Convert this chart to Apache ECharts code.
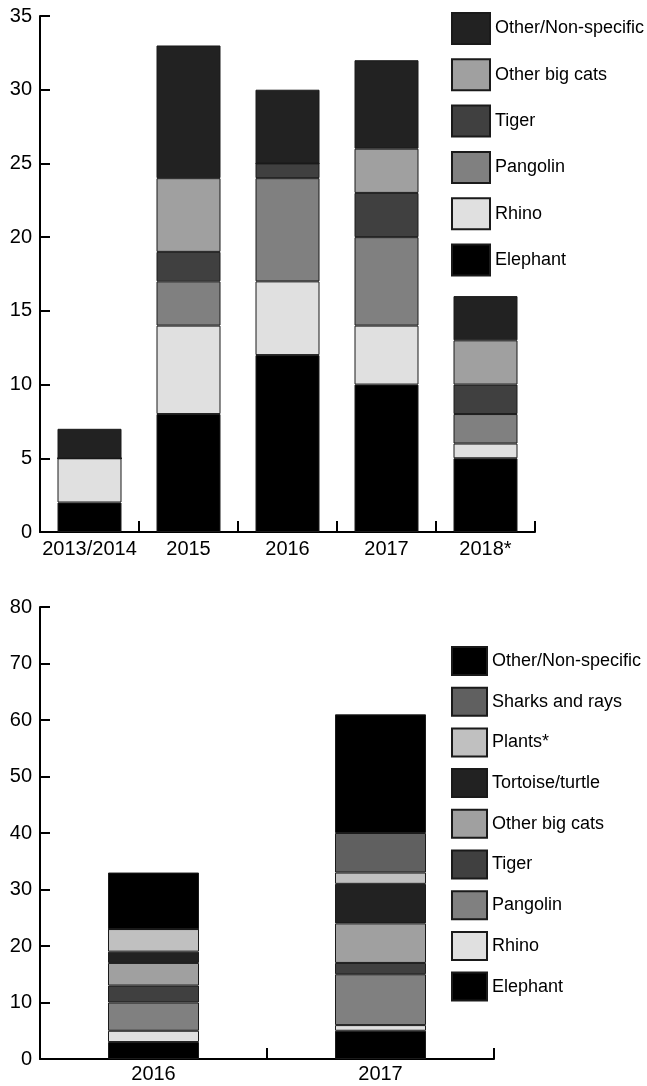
<!DOCTYPE html>
<html>
<head>
<meta charset="utf-8">
<script src="https://cdn.jsdelivr.net/npm/echarts@6/dist/echarts.min.js"></script>
<style>
html,body{margin:0;padding:0;background:#fff;}
#top{position:absolute;left:0;top:0;width:647px;height:570px;}
#bot{position:absolute;left:0;top:570px;width:647px;height:516px;}
</style>
</head>
<body>
<div id="top"></div>
<div id="bot"></div>
<script>
// ---- Top chart data ----
var topCategories = ['2013/2014', '2015', '2016', '2017', '2018*'];
var topElephant = [2, 8, 12, 10, 5];
var topRhino = [3, 6, 5, 4, 1];
var topPangolin = [0, 3, 7, 6, 2];
var topTiger = [0, 2, 1, 3, 2];
var topOtherBigCats = [0, 5, 0, 3, 3];
var topOther = [2, 9, 5, 6, 3];
var topYTicks = [0, 35, 5]; // min, max, interval

// ---- Bottom chart data ----
var botCategories = ['2016', '2017'];
var botElephant = [3, 5];
var botRhino = [2, 1];
var botPangolin = [5, 9];
var botTiger = [3, 2];
var botOtherBigCats = [4, 7];
var botTortoise = [2, 7];
var botPlants = [4, 2];
var botSharks = [0, 7];
var botOther = [10, 21];
var botYTicks = [0, 80, 10];

var FONT = '"Liberation Sans", Arial, sans-serif';

function makeSeries(name, data, color, width) {
  return {
    name: name, type: 'bar', stack: 'total', data: data, barWidth: width,
    itemStyle: { color: color, borderColor: '#1a1a1a', borderWidth: 1 },
    emphasis: { disabled: true }
  };
}

function axisCommon(y) {
  return {
    axisLine: { show: true, lineStyle: { color: '#000', width: 2 } },
    axisTick: { show: true, inside: true, length: y ? 10 : 11, lineStyle: { color: '#000', width: 2 } },
    axisLabel: { color: '#000', fontSize: 20, fontFamily: FONT, interval: 0 },
    splitLine: { show: false }
  };
}

// Top chart
var c1 = echarts.init(document.getElementById('top'));
var x1 = axisCommon(false); x1.type = 'category'; x1.data = topCategories; x1.axisLabel.margin = 7;
var y1 = axisCommon(true); y1.type = 'value'; y1.min = topYTicks[0]; y1.max = topYTicks[1]; y1.interval = topYTicks[2]; y1.axisLabel.margin = 8;
c1.setOption({
  animation: false,
  grid: { left: 40, right: 112, top: 16, bottom: 38 },
  xAxis: x1,
  yAxis: y1,
  legend: {
    orient: 'vertical', left: 451, top: 12, padding: 0,
    itemWidth: 38, itemHeight: 31, itemGap: 13.3,
    icon: 'rect',
    selectedMode: false,
    textStyle: { fontSize: 18, fontFamily: FONT, color: '#000' },
    data: ['Other/Non-specific', 'Other big cats', 'Tiger', 'Pangolin', 'Rhino', 'Elephant']
  },
  series: [
    makeSeries('Elephant', topElephant, '#000000', 64),
    makeSeries('Rhino', topRhino, '#e0e0e0', 64),
    makeSeries('Pangolin', topPangolin, '#808080', 64),
    makeSeries('Tiger', topTiger, '#404040', 64),
    makeSeries('Other big cats', topOtherBigCats, '#a0a0a0', 64),
    makeSeries('Other/Non-specific', topOther, '#222222', 64)
  ]
});

// Bottom chart
var c2 = echarts.init(document.getElementById('bot'));
var x2 = axisCommon(false); x2.type = 'category'; x2.data = botCategories; x2.axisLabel.margin = 5;
var y2 = axisCommon(true); y2.type = 'value'; y2.min = botYTicks[0]; y2.max = botYTicks[1]; y2.interval = botYTicks[2]; y2.axisLabel.margin = 8;
c2.setOption({
  animation: false,
  grid: { left: 40, right: 153, top: 37, bottom: 27 },
  xAxis: x2,
  yAxis: y2,
  legend: {
    orient: 'vertical', left: 451, top: 76, padding: 0,
    itemWidth: 35, itemHeight: 28, itemGap: 10.7,
    icon: 'rect',
    selectedMode: false,
    textStyle: { fontSize: 18, fontFamily: FONT, color: '#000' },
    data: ['Other/Non-specific', 'Sharks and rays', 'Plants*', 'Tortoise/turtle', 'Other big cats', 'Tiger', 'Pangolin', 'Rhino', 'Elephant']
  },
  series: [
    makeSeries('Elephant', botElephant, '#000000', 91),
    makeSeries('Rhino', botRhino, '#e0e0e0', 91),
    makeSeries('Pangolin', botPangolin, '#808080', 91),
    makeSeries('Tiger', botTiger, '#404040', 91),
    makeSeries('Other big cats', botOtherBigCats, '#a0a0a0', 91),
    makeSeries('Tortoise/turtle', botTortoise, '#222222', 91),
    makeSeries('Plants*', botPlants, '#c0c0c0', 91),
    makeSeries('Sharks and rays', botSharks, '#606060', 91),
    makeSeries('Other/Non-specific', botOther, '#000000', 91)
  ]
});
</script>
</body>
</html>
